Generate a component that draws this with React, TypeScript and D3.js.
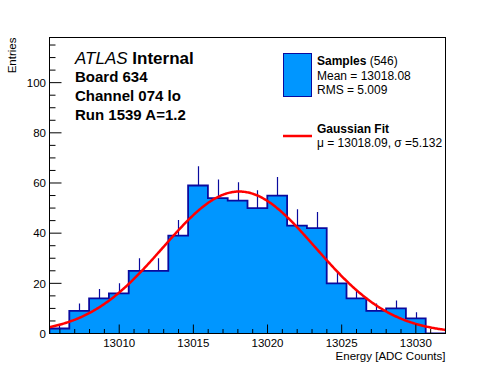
import React from "react";
import * as d3 from "d3";

// ---- data ----
const binCounts = [2, 9, 14, 16, 25, 25, 39, 59, 54, 53, 50, 55, 43, 42, 20, 14, 9, 10, 6, 0];
const xRange = [13005.3, 13032.0];
const yRange = [0, 118];
const xMajorTicks = [13010, 13015, 13020, 13025, 13030];
const yMajorTicks = [0, 20, 40, 60, 80, 100];
const fitParams = { amplitude: 56.6, mu: 13018.09, sigma: 5.132 };
const infoLines = ["Board 634", "Channel 074 lo", "Run 1539 A=1.2"];
const legendSamples = { title: "Samples", entries: "(546)", mean: "Mean = 13018.08", rms: "RMS = 5.009" };
const legendFit = { title: "Gaussian Fit", params: "\u03bc = 13018.09, \u03c3 =5.132" };

const W = 496, H = 372;
const L = 49.5, R = 445.5, T = 37.5, B = 333.5;
const FONT = "'Liberation Sans', Arial, Helvetica, sans-serif";
const FILL = "#0096ff";
const EDGE = "#0a0a9e";

export default function App() {
  const x = d3.scaleLinear().domain(xRange).range([L, R]);
  const y = d3.scaleLinear().domain(yRange).range([B, T]);
  const nb = binCounts.length;
  const bw = (xRange[1] - xRange[0]) / nb;
  const edges = d3.range(nb + 1).map((i) => xRange[0] + i * bw);

  // step outline
  let path = `M${x(edges[0])},${y(0)}`;
  binCounts.forEach((c, i) => {
    path += `V${y(c)}H${x(edges[i + 1])}`;
  });
  path += `V${y(0)}`;

  const fitPts = d3.range(0, 401).map((i) => {
    const xv = xRange[0] + ((xRange[1] - xRange[0]) * i) / 400;
    const z = (xv - fitParams.mu) / fitParams.sigma;
    return [xv, fitParams.amplitude * Math.exp(-0.5 * z * z)] as [number, number];
  });
  const fitLine = d3
    .line<[number, number]>()
    .x((d) => x(d[0]))
    .y((d) => y(d[1]));

  const xMinor = d3.range(Math.ceil(xRange[0]), Math.floor(xRange[1]) + 1);
  const yMinor = d3.range(0, yRange[1] + 0.01, 5);

  return (
    <svg width={W} height={H} style={{ position: "absolute", left: 0, top: 0, background: "#fff" }} fontFamily={FONT}>
      <rect x={0} y={0} width={W} height={H} fill="#fff" />
      <defs>
        <clipPath id="frame">
          <rect x={L} y={T} width={R - L} height={B - T} />
        </clipPath>
      </defs>
      <g clipPath="url(#frame)">
        <path d={path} fill={FILL} stroke="none" />
        {binCounts.map((c, i) =>
          c > 0 ? (
            <line
              key={i}
              x1={Math.round(x(edges[i] + bw / 2)) + 0.5}
              x2={Math.round(x(edges[i] + bw / 2)) + 0.5}
              y1={y(c)}
              y2={y(c + Math.sqrt(c))}
              stroke={EDGE}
              strokeWidth={1.2}
            />
          ) : null
        )}
        <path d={path} fill="none" stroke={EDGE} strokeWidth={1.8} />
        <path d={fitLine(fitPts) || ""} fill="none" stroke="#ff0000" strokeWidth={2.5} />
      </g>
      {/* frame */}
      <rect x={L} y={T} width={R - L} height={B - T} fill="none" stroke="#000" strokeWidth={1} />
      {/* x ticks */}
      {xMinor.map((v) => {
        const major = xMajorTicks.includes(v);
        return (
          <line key={"xt" + v} x1={x(v)} x2={x(v)} y1={B} y2={B - (major ? 9 : 4.5)} stroke="#000" strokeWidth={1} />
        );
      })}
      {xMajorTicks.map((v) => (
        <text key={"xl" + v} x={x(v)} y={346.5} fontSize={11.5} textAnchor="middle" fill="#000">
          {v}
        </text>
      ))}
      {/* y ticks */}
      {yMinor.map((v) => {
        const major = yMajorTicks.includes(v);
        return (
          <line key={"yt" + v} x1={L} x2={L + (major ? 12 : 6)} y1={y(v)} y2={y(v)} stroke="#000" strokeWidth={1} />
        );
      })}
      {yMajorTicks.map((v) => (
        <text key={"yl" + v} x={46} y={y(v) + 4.2} fontSize={11.5} textAnchor="end" fill="#000">
          {v}
        </text>
      ))}
      {/* axis titles */}
      <text x={R} y={360} fontSize={11.5} textAnchor="end" fill="#000">
        Energy [ADC Counts]
      </text>
      <text transform={`translate(16,${T}) rotate(-90)`} fontSize={11.5} textAnchor="end" fill="#000">
        Entries
      </text>
      {/* ATLAS label */}
      <text x={75} y={64} fontSize={17} fill="#000">
        <tspan fontStyle="italic">ATLAS</tspan>
        <tspan fontWeight="bold"> Internal</tspan>
      </text>
      {infoLines.map((t, i) => (
        <text key={t} x={75} y={82 + i * 19} fontSize={15} fontWeight="bold" fill="#000">
          {t}
        </text>
      ))}
      {/* legend */}
      <rect x={283.5} y={53.5} width={28} height={43} fill={FILL} stroke={EDGE} strokeWidth={1} />
      <text x={317} y={65} fontSize={12} fill="#000">
        <tspan fontWeight="bold">{legendSamples.title}</tspan>
        <tspan> {legendSamples.entries}</tspan>
      </text>
      <text x={317} y={79.5} fontSize={12} fill="#000">
        {legendSamples.mean}
      </text>
      <text x={317} y={93.5} fontSize={12} fill="#000">
        {legendSamples.rms}
      </text>
      <line x1={283} x2={312} y1={136} y2={136} stroke="#ff0000" strokeWidth={2.5} />
      <text x={317} y={132.5} fontSize={12} fontWeight="bold" fill="#000">
        {legendFit.title}
      </text>
      <text x={317} y={146.5} fontSize={12} fill="#000">
        {legendFit.params}
      </text>
    </svg>
  );
}
